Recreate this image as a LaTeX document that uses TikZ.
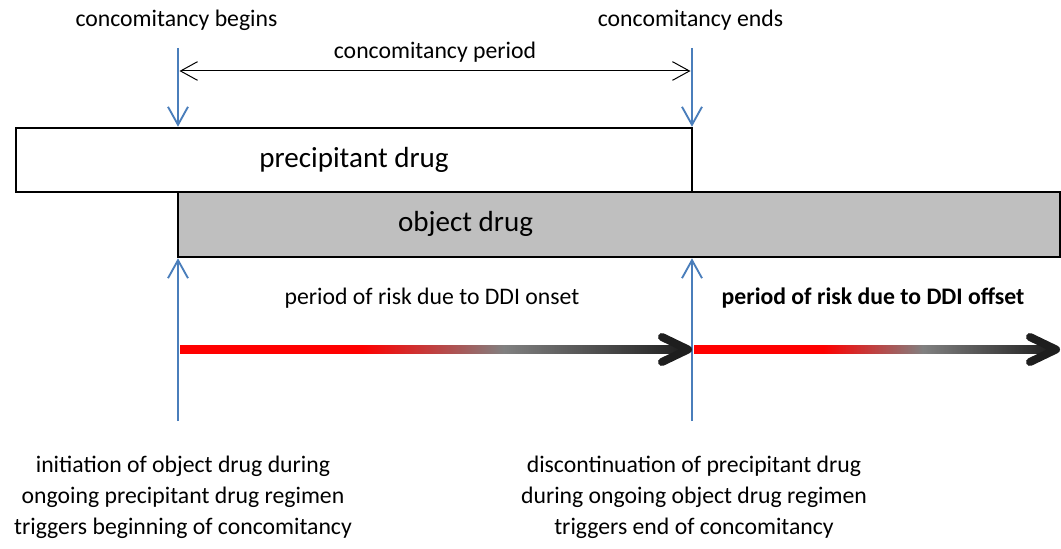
\documentclass[tikz,border=0pt]{standalone}
\usepackage{fontspec}
\setmainfont{Carlito}
\usetikzlibrary{arrows.meta,fit}
\definecolor{darkend}{HTML}{1E1E1E}
\definecolor{midgray}{HTML}{808080}
\definecolor{officeblue}{HTML}{4A7EBB}
\definecolor{boxgray}{HTML}{BFBFBF}
\pgfdeclarehorizontalshading{riskshade}{100bp}{color(0bp)=(red); color(25bp)=(red); color(43bp)=(red); color(57bp)=(midgray); color(75bp)=(darkend); color(100bp)=(darkend)}
\begin{document}
\begin{tikzpicture}[x=0.75pt,y=-0.75pt,
  lbl/.style={inner sep=0pt, font=\fontsize{17.8}{21}\selectfont},
  big/.style={inner sep=0pt, font=\fontsize{21.8}{26}\selectfont},
  blk/.style={inner sep=0pt, align=center, font=\fontsize{17.8}{23.25}\selectfont},
  drugbox/.style={draw=black, line width=1.9pt, inner sep=0pt},
  bluearr/.style={draw=officeblue, line width=1.4pt, -{Straight Barb[length=13.5pt,width=15pt,line width=1.4pt]}},
  periodarr/.style={draw=black, line width=0.75pt, {Straight Barb[length=12.75pt,width=14pt,line width=0.75pt]}-{Straight Barb[length=12.75pt,width=14pt,line width=0.75pt]}},
  chev/.style={draw=darkend, line width=6pt, line cap=round, line join=round},
  riskbar/.style={shading=riskshade}
]
\useasboundingbox (0,0) rectangle (1061,549);

% boxes
\node[drugbox, fill=boxgray, fit={(178,192) (1060,257)}] (od) {};
\node[drugbox, fill=white, fit={(16,128) (692,192)}] (pd) {};
\node[big] (pdt) at (354,160) {precipitant drug};
\node[big] (odt) at (465.5,224) {object drug};

% top labels
\node[lbl] (cb) at (176.5,20) {concomitancy begins};
\node[lbl] (ce) at (690.5,20) {concomitancy ends};
\node[lbl] (cpt) at (435,52) {concomitancy period};

% blue arrows
\coordinate (t1) at (178,48);
\coordinate (t2) at (692,48);
\coordinate (u1) at (178,421);
\coordinate (u2) at (692,421);
\draw[bluearr] (t1) -- (t1 |- pd.north);
\draw[bluearr] (t2) -- (t2 |- pd.north);
\draw[bluearr] (u1) -- (u1 |- od.south);
\draw[bluearr] (u2) -- (u2 |- od.south);

% concomitancy period
\coordinate (p1) at (179.5,71);
\coordinate (p2) at (690.5,71);
\draw[periodarr] (p1) -- (p2);

% risk labels
\node[lbl] (on) at (432,298) {period of risk due to DDI onset};
\node[lbl, font=\fontsize{17.8}{21}\selectfont\bfseries] (off) at (873,298) {period of risk due to DDI offset};

% risk arrows
\coordinate (r1s) at (180,345.5);
\coordinate (r1e) at (686,353.5);
\coordinate (r2s) at (694,345.5);
\coordinate (r2e) at (1052,353.5);
\shade[riskbar] (r1s) rectangle (r1e);
\shade[riskbar] (r2s) rectangle (r2e);
\coordinate (a1u) at (662,337);
\coordinate (a1t) at (688,349.5);
\coordinate (a1d) at (662,362);
\coordinate (a2u) at (1030,337);
\coordinate (a2t) at (1056,349.5);
\coordinate (a2d) at (1030,362);
\draw[chev] (a1u) -- (a1t) -- (a1d);
\draw[chev] (a2u) -- (a2t) -- (a2d);

% bottom texts
\node[blk] (lb) at (183,497) {initiation of object drug during\\ongoing precipitant drug regimen\\triggers beginning of concomitancy};
\node[blk] (rb) at (694,497) {discontinuation of precipitant drug\\during ongoing object drug regimen\\triggers end of concomitancy};
\end{tikzpicture}
\end{document}
